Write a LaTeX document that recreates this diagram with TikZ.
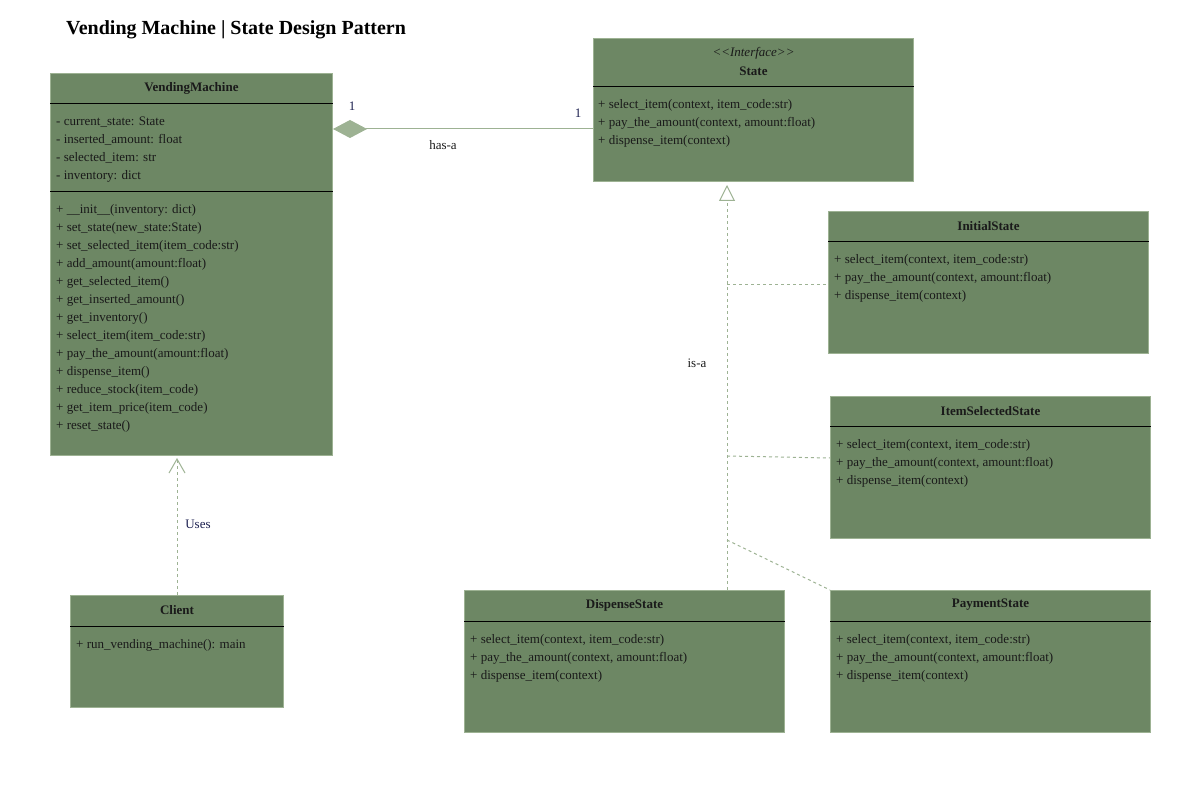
\documentclass[tikz,border=0pt]{standalone}
\usepackage{fontspec}
\setmainfont{Liberation Serif}
\usepackage{tikz}
\usetikzlibrary{arrows.meta,positioning}

\definecolor{umlfill}{HTML}{6D8764}
\definecolor{umlline}{HTML}{9DB293}
\definecolor{umltext}{HTML}{1A1A1A}
\definecolor{lbltext}{HTML}{1B1F4F}

\tikzset{
  umlbox/.style={draw=umlline,line width=1pt,fill=umlfill,inner sep=0pt,anchor=north west},
  cname/.style={font=\fontsize{13pt}{18pt}\selectfont\bfseries,text=umltext,inner sep=0pt,yshift=-2pt},
  member/.style={anchor=west,inner sep=0pt,text height=9pt,text depth=3pt,text=umltext,yshift=-3pt},
  sep/.style={draw=black,line width=1pt},
  real/.style={draw=umlline,line width=1pt,dash pattern=on 3pt off 3pt},
  lbl/.style={inner sep=0pt,text=lbltext}
}

\begin{document}
\begin{tikzpicture}[x=1pt,y=-1pt,font=\fontsize{13pt}{18pt}\selectfont]
\useasboundingbox (0,0) rectangle (1187,791);
\node[anchor=west,inner sep=0pt,font=\fontsize{20pt}{24pt}\selectfont\bfseries] (title) at (66,30) {Vending Machine | State Design Pattern};

% context class
\node[umlbox,minimum width=282pt,minimum height=382pt] (vm) at (50,73) {};
\node[cname] at ([yshift=-13pt]vm.north) {VendingMachine};
\draw[sep] ([yshift=-31pt]vm.north west) -- ([yshift=-31pt]vm.north east);
\draw[sep] ([yshift=-119pt]vm.north west) -- ([yshift=-119pt]vm.north east);
\foreach \m [count=\i from 0] in {{- current\_state: State},{- inserted\_amount: float},{- selected\_item: str},{- inventory: dict}}
  \node[member] at ([xshift=6pt,yshift=-47pt-\i*18pt]vm.north west) {\m};
\foreach \m [count=\i from 0] in {{+ \_\_init\_\_(inventory: dict)},{+ set\_state(new\_state:State)},{+ set\_selected\_item(item\_code:str)},{+ add\_amount(amount:float)},{+ get\_selected\_item()},{+ get\_inserted\_amount()},{+ get\_inventory()},{+ select\_item(item\_code:str)},{+ pay\_the\_amount(amount:float)},{+ dispense\_item()},{+ reduce\_stock(item\_code)},{+ get\_item\_price(item\_code)},{+ reset\_state()}}
  \node[member] at ([xshift=6pt,yshift=-135pt-\i*18pt]vm.north west) {\m};

% interface
\node[umlbox,minimum width=320pt,minimum height=143pt] (st) at (593,38) {};
\node[inner sep=0pt,text=umltext,font=\fontsize{13pt}{18pt}\selectfont\itshape] at ([yshift=-15pt]st.north) {<\kern0pt<Interface>\kern0pt>};
\node[cname] at ([yshift=-31pt]st.north) {State};
\draw[sep] ([yshift=-49pt]st.north west) -- ([yshift=-49pt]st.north east);
\foreach \m [count=\i from 0] in {{+ select\_item(context, item\_code:str)},{+ pay\_the\_amount(context, amount:float)},{+ dispense\_item(context)}}
  \node[member] at ([xshift=5pt,yshift=-65pt-\i*18pt]st.north west) {\m};

% concrete states
\foreach \nm/\ttl/\bx/\by in {is/InitialState/828/211,iss/ItemSelectedState/830/396,ds/DispenseState/464/590,ps/PaymentState/830/590}{
  \node[umlbox,minimum width=320pt,minimum height=142pt] (\nm) at (\bx,\by) {};
  \node[cname] at ([yshift=-13pt]\nm.north) {\ttl};
  \draw[sep] ([yshift=-31pt]\nm.north west) -- ([yshift=-31pt]\nm.north east);
  \foreach \m [count=\i from 0] in {{+ select\_item(context, item\_code:str)},{+ pay\_the\_amount(context, amount:float)},{+ dispense\_item(context)}}
    \node[member] at ([xshift=6pt,yshift=-47pt-\i*18pt]\nm.north west) {\m};
}

% client
\node[umlbox,minimum width=213pt,minimum height=112pt] (cl) at (70,595) {};
\node[cname] at ([yshift=-13pt]cl.north) {Client};
\draw[sep] ([yshift=-31pt]cl.north west) -- ([yshift=-31pt]cl.north east);
\node[member] at ([xshift=6pt,yshift=-47pt]cl.north west) {+ run\_vending\_machine(): main};

% has-a
\draw[draw=umlline,line width=1pt,{Diamond[length=34pt,width=18pt,fill=umlline]}-] ([yshift=-56pt]vm.north east) -- ([yshift=-91pt]st.north west);
\node[lbl] (m1) at (352,106) {1};
\node[lbl] (m2) at (578,113) {1};
\node[inner sep=0pt,text=umltext] (hasa) at (443,145) {has-a};

% is-a
\coordinate (j1) at (727,285);
\coordinate (j2) at (727,456);
\coordinate (j3) at (727,540);
\draw[real,shorten >=3pt,-{Triangle[open,length=16pt,width=16pt,fill=white]}] (ds.north -| j1) -- (st.south -| j1);
\draw[real] (j1) -- (is.west |- j1);
\draw[real] (j2) -- ([yshift=-62pt]iss.north west);
\draw[real] (j3) -- (ps.north west);
\node[inner sep=0pt,text=umltext] (isa) at (697,363) {is-a};

% uses
\draw[real,shorten >=2pt,-{Straight Barb[length=14pt,width=16pt]}] (cl.north) -- (cl.north |- vm.south);
\node[lbl] (uses) at (198,524) {Uses};
\end{tikzpicture}
\end{document}
